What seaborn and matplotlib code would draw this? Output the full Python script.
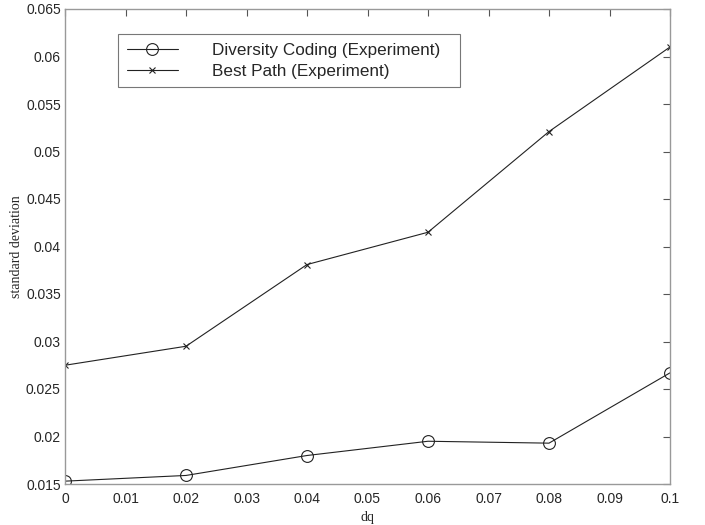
import matplotlib
matplotlib.use("Agg")
import matplotlib.pyplot as plt
import seaborn as sns
import pandas as pd

dq = [0.0, 0.02, 0.04, 0.06, 0.08, 0.1]
diversity_coding = [0.0153, 0.0159, 0.0180, 0.0195, 0.0193, 0.0267]
best_path = [0.0275, 0.0295, 0.0381, 0.0415, 0.0521, 0.0610]
x_ticks = [0, 0.01, 0.02, 0.03, 0.04, 0.05, 0.06, 0.07, 0.08, 0.09, 0.1]
x_labels = ["0", "0.01", "0.02", "0.03", "0.04", "0.05", "0.06", "0.07", "0.08", "0.09", "0.1"]
y_ticks = [0.015, 0.02, 0.025, 0.03, 0.035, 0.04, 0.045, 0.05, 0.055, 0.06, 0.065]
y_labels = ["0.015", "0.02", "0.025", "0.03", "0.035", "0.04", "0.045", "0.05", "0.055", "0.06", "0.065"]

sns.set_style("white")
plt.rcParams["font.family"] = ["Liberation Sans", "DejaVu Sans"]

fig = plt.figure(figsize=(7.05, 5.25), dpi=100)
ax = fig.add_axes([65/705, 41/525, 605/705, 475/525])

df1 = pd.DataFrame({"dq": dq, "sd": diversity_coding})
df2 = pd.DataFrame({"dq": dq, "sd": best_path})
sns.lineplot(data=df1, x="dq", y="sd", ax=ax, color="#222222", lw=0.8,
             marker="o", markersize=8.5, markerfacecolor="none", markeredgecolor="#222222",
             markeredgewidth=0.8, label="Diversity Coding (Experiment)")
sns.lineplot(data=df2, x="dq", y="sd", ax=ax, color="#222222", lw=0.8,
             marker="x", markersize=5, markeredgecolor="#222222",
             markeredgewidth=0.8, label="Best Path (Experiment)")

ax.set_xlim(0, 0.1)
ax.set_ylim(0.015, 0.065)
ax.set_xticks(x_ticks)
ax.set_xticklabels(x_labels)
ax.set_yticks(y_ticks)
ax.set_yticklabels(y_labels)
ax.tick_params(direction="in", length=5, width=0.8, color="#555555",
               top=True, right=True, labelsize=10)
ax.tick_params(axis="x", pad=6)
ax.tick_params(axis="y", pad=3)
for s in ax.spines.values():
    s.set_color("#999999")
    s.set_linewidth(1.0)

ax.set_xlabel("dq", family=["Liberation Serif"], fontsize=10, labelpad=3)
ax.set_ylabel("standard deviation", family=["Liberation Serif"], fontsize=10, labelpad=2)

leg = ax.legend(loc="upper left", bbox_to_anchor=(0.088, 0.834, 0.565, 0.113),
                mode="expand", fontsize=12.3, handlelength=3.0, handletextpad=2.0,
                borderpad=0.5, labelspacing=0.35, frameon=True, fancybox=False,
                borderaxespad=0)
leg.get_frame().set_edgecolor("#555555")
leg.get_frame().set_linewidth(0.8)

fig.savefig("out.png", dpi=100)
